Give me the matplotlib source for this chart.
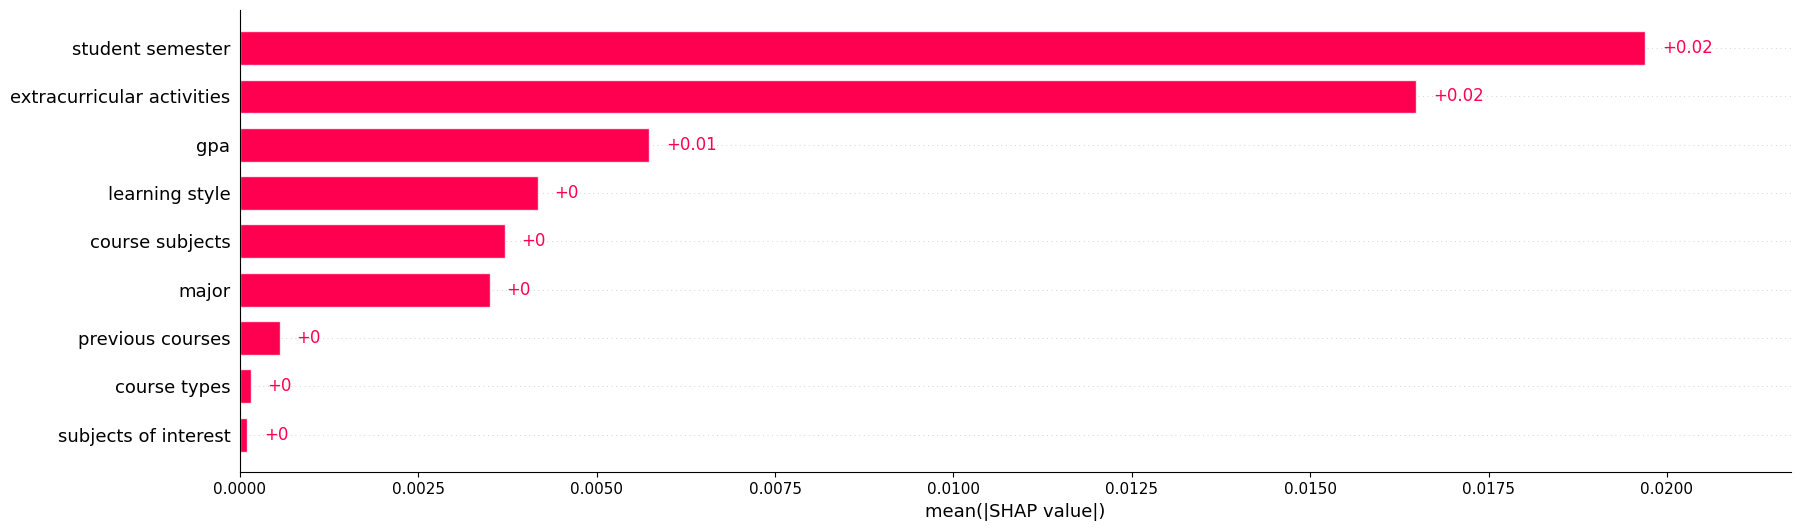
import matplotlib
matplotlib.use("Agg")
import matplotlib.pyplot as plt
import numpy as np

features = ["student semester", "extracurricular activities", "gpa", "learning style",
            "course subjects", "major", "previous courses", "course types",
            "subjects of interest"]
values = [0.01970, 0.01649, 0.005735, 0.004177, 0.003712, 0.003505, 0.000559, 0.000151, 0.000100]
value_labels = ["+0.02", "+0.02", "+0.01", "+0", "+0", "+0", "+0", "+0", "+0"]
xticks = [0.0, 0.0025, 0.0050, 0.0075, 0.0100, 0.0125, 0.0150, 0.0175, 0.0200]
xtick_labels = ["0.0000", "0.0025", "0.0050", "0.0075", "0.0100", "0.0125", "0.0150", "0.0175", "0.0200"]

red = (1.0, 0.0, 0.3137)

fig = plt.figure(figsize=(17.99, 5.30), dpi=100)
ax = fig.add_axes([240 / 1799, 1 - 472.3 / 530, (1791 - 240) / 1799, (472.3 - 10) / 530])

y_pos = np.arange(len(features))
for y in y_pos:
    ax.axhline(y, color="#c4c4c4", lw=0.6, dashes=(1, 4.5), zorder=-1)
ax.barh(y_pos, values, 0.7, align="center", color=red, edgecolor=(1, 1, 1, 0.8), linewidth=1)

for y, v, lab in zip(y_pos, values, value_labels):
    ax.annotate(lab, xy=(v, y), xytext=(12, 0), textcoords="offset points",
                ha="left", va="center", color=red, fontsize=12)

ax.set_yticks(y_pos)
ax.set_yticklabels(features, fontsize=13)
ax.tick_params(axis="y", length=0, pad=7)
ax.set_xticks(xticks)
ax.set_xticklabels(xtick_labels, fontsize=11)
ax.set_xlim(0, 0.02174)
ax.set_ylim(len(features) - 1 + 0.78, -0.79)
ax.set_xlabel("mean(|SHAP value|)", fontsize=13)

ax.spines["top"].set_visible(False)
ax.spines["right"].set_visible(False)

fig.savefig("out.png", dpi=100)
